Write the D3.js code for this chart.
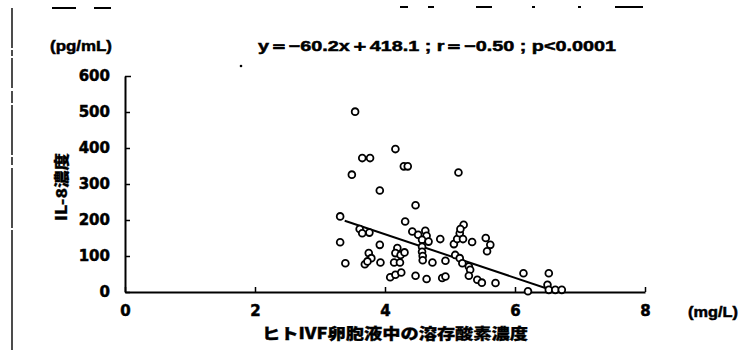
<!DOCTYPE html>
<html>
<head>
<meta charset="utf-8">
<script src="https://cdn.jsdelivr.net/npm/d3@7"></script>
<style>
  html, body { margin: 0; padding: 0; background: #fff; }
  svg { display: block; }
  text { font-family: "Liberation Sans", Arial, sans-serif; font-weight: bold; fill: #000; stroke: #000; stroke-width: 0.5px; }
  .jp { font-family: "Noto Sans CJK JP", sans-serif; font-weight: 900; stroke-width: 0.3px; }
</style>
</head>
<body>
<svg id="chart" width="743" height="363"></svg>
<script>
// ---- data ----
// dissolved O2 in follicular fluid (mg/L)
const doValues = [
  3.54, 4.16, 3.65, 3.77, 4.29, 4.35, 3.49, 3.92, 5.13, 4.47,
  3.31, 4.31, 3.61, 3.65, 3.76, 3.31, 3.92, 3.75, 3.79, 4.19,
  4.16, 4.24, 3.39, 3.69, 3.73, 3.93, 4.14, 4.23, 4.08, 4.16,
  4.25, 4.42, 4.51, 4.62, 4.64, 4.57, 4.67, 4.57, 4.57, 4.58,
  4.58, 4.73, 4.47, 4.64, 4.85, 4.88, 4.93, 4.93, 5.06, 5.11,
  5.15, 5.21, 5.20, 5.16, 5.34, 5.08, 5.15, 5.19, 5.29, 5.31,
  5.29, 5.55, 5.62, 5.57, 5.42, 5.49, 5.70, 6.13, 6.52, 6.20,
  6.50, 6.52, 6.62, 6.72, 4.30
];
// IL-8 concentration (pg/mL)
const il8Values = [
  501, 397, 372, 372, 349, 349, 326, 282, 332, 241,
  210, 196, 175, 163, 165, 138, 131, 108, 94, 122,
  108, 103, 80, 77, 85, 82, 82, 82, 41, 48,
  54, 168, 159, 170, 156, 145, 140, 126, 112, 100,
  88, 82, 45, 36, 147, 39, 43, 87, 133, 147,
  163, 187, 147, 175, 139, 103, 94, 80, 71, 62,
  45, 150, 131, 113, 34, 26, 25, 52, 52, 2,
  20, 6, 6, 6, 110
];
const xTicks = [0, 2, 4, 6, 8];
const yTicks = [0, 100, 200, 300, 400, 500, 600];
// regression line as printed (end points)
const fitLineX = [3.38, 6.65];
const fitLineY = [198, 0];
const fitLabel = "y＝−60.2x＋418.1 ; r＝−0.50 ; p<0.0001";

const points = doValues.map((d, i) => ({ x: d, y: il8Values[i] }));

const svg = d3.select("#chart");

const x = d3.scaleLinear().domain([0, 8]).range([125, 645]);
const y = d3.scaleLinear().domain([0, 600]).range([292, 76]);

// scan artefacts: dashed left border and stray marks on top
svg.append("line")
  .attr("x1", 12).attr("x2", 12).attr("y1", 8).attr("y2", 356)
  .attr("stroke", "#000").attr("stroke-width", 1.4)
  .attr("stroke-dasharray", "40 2 6 2 30 3 12 2 50 2 8 3 60 2 120");
[[52, 76, 8], [94, 111, 8], [400, 408, 7], [428, 434, 7], [476, 492, 7], [532, 535, 7], [578, 581, 7], [615, 643, 7]]
  .forEach(([a, b, yy]) => {
    svg.append("line").attr("x1", a).attr("x2", b).attr("y1", yy).attr("y2", yy)
      .attr("stroke", "#000").attr("stroke-width", 2);
  });
svg.append("circle").attr("cx", 241).attr("cy", 66).attr("r", 1.3).attr("fill", "#000");

// axes
const xAxis = svg.append("g")
  .attr("transform", `translate(0,${y(0)})`)
  .call(d3.axisBottom(x).tickValues(xTicks).tickSizeInner(-5).tickSizeOuter(0).tickPadding(13));
const yAxis = svg.append("g")
  .attr("transform", `translate(${x(0)},0)`)
  .call(d3.axisLeft(y).tickValues(yTicks).tickSizeInner(-5).tickSizeOuter(0).tickPadding(15));

[xAxis, yAxis].forEach(g => {
  g.select(".domain").attr("stroke", "#000").attr("stroke-width", 2);
  g.selectAll(".tick line").attr("stroke", "#000").attr("stroke-width", 1.5);
  g.selectAll(".tick text")
    .attr("fill", "#000")
    .attr("stroke", "#000")
    .attr("stroke-width", 0.6)
    .style("font-family", "'DejaVu Sans', sans-serif")
    .style("font-weight", "bold")
    .style("font-size", "15px");
});
// top hook on y axis
yAxis.select(".tick:last-of-type line").attr("x2", 6);

// regression line
svg.append("line")
  .attr("x1", x(fitLineX[0])).attr("y1", y(fitLineY[0]))
  .attr("x2", x(fitLineX[1])).attr("y2", y(fitLineY[1]))
  .attr("stroke", "#000").attr("stroke-width", 2);

// scatter
svg.append("g").selectAll("circle")
  .data(points)
  .join("circle")
  .attr("cx", d => x(d.x))
  .attr("cy", d => y(d.y))
  .attr("r", 3.4)
  .attr("fill", "#fff")
  .attr("stroke", "#000")
  .attr("stroke-width", 1.8);

// labels
svg.append("text")
  .attr("x", 50).attr("y", 51)
  .attr("textLength", 62).attr("lengthAdjust", "spacingAndGlyphs")
  .style("font-size", "15px")
  .text("(pg/mL)");

svg.append("text")
  .attr("x", 258).attr("y", 51)
  .attr("textLength", 358).attr("lengthAdjust", "spacingAndGlyphs")
  .style("font-size", "15px")
  .text(fitLabel);

svg.append("text")
  .attr("x", 688).attr("y", 317)
  .attr("textLength", 50).attr("lengthAdjust", "spacingAndGlyphs")
  .style("font-size", "15px")
  .text("(mg/L)");

svg.append("text")
  .attr("class", "jp")
  .attr("x", 262).attr("y", 339)
  .attr("textLength", 266).attr("lengthAdjust", "spacingAndGlyphs")
  .style("font-size", "15px")
  .text("ヒトIVF卵胞液中の溶存酸素濃度");

svg.append("text")
  .attr("class", "jp")
  .attr("transform", "translate(67,187) rotate(-90)")
  .attr("text-anchor", "middle")
  .attr("textLength", 68).attr("lengthAdjust", "spacingAndGlyphs")
  .style("font-size", "15px")
  .text("IL-8濃度");
</script>
</body>
</html>
